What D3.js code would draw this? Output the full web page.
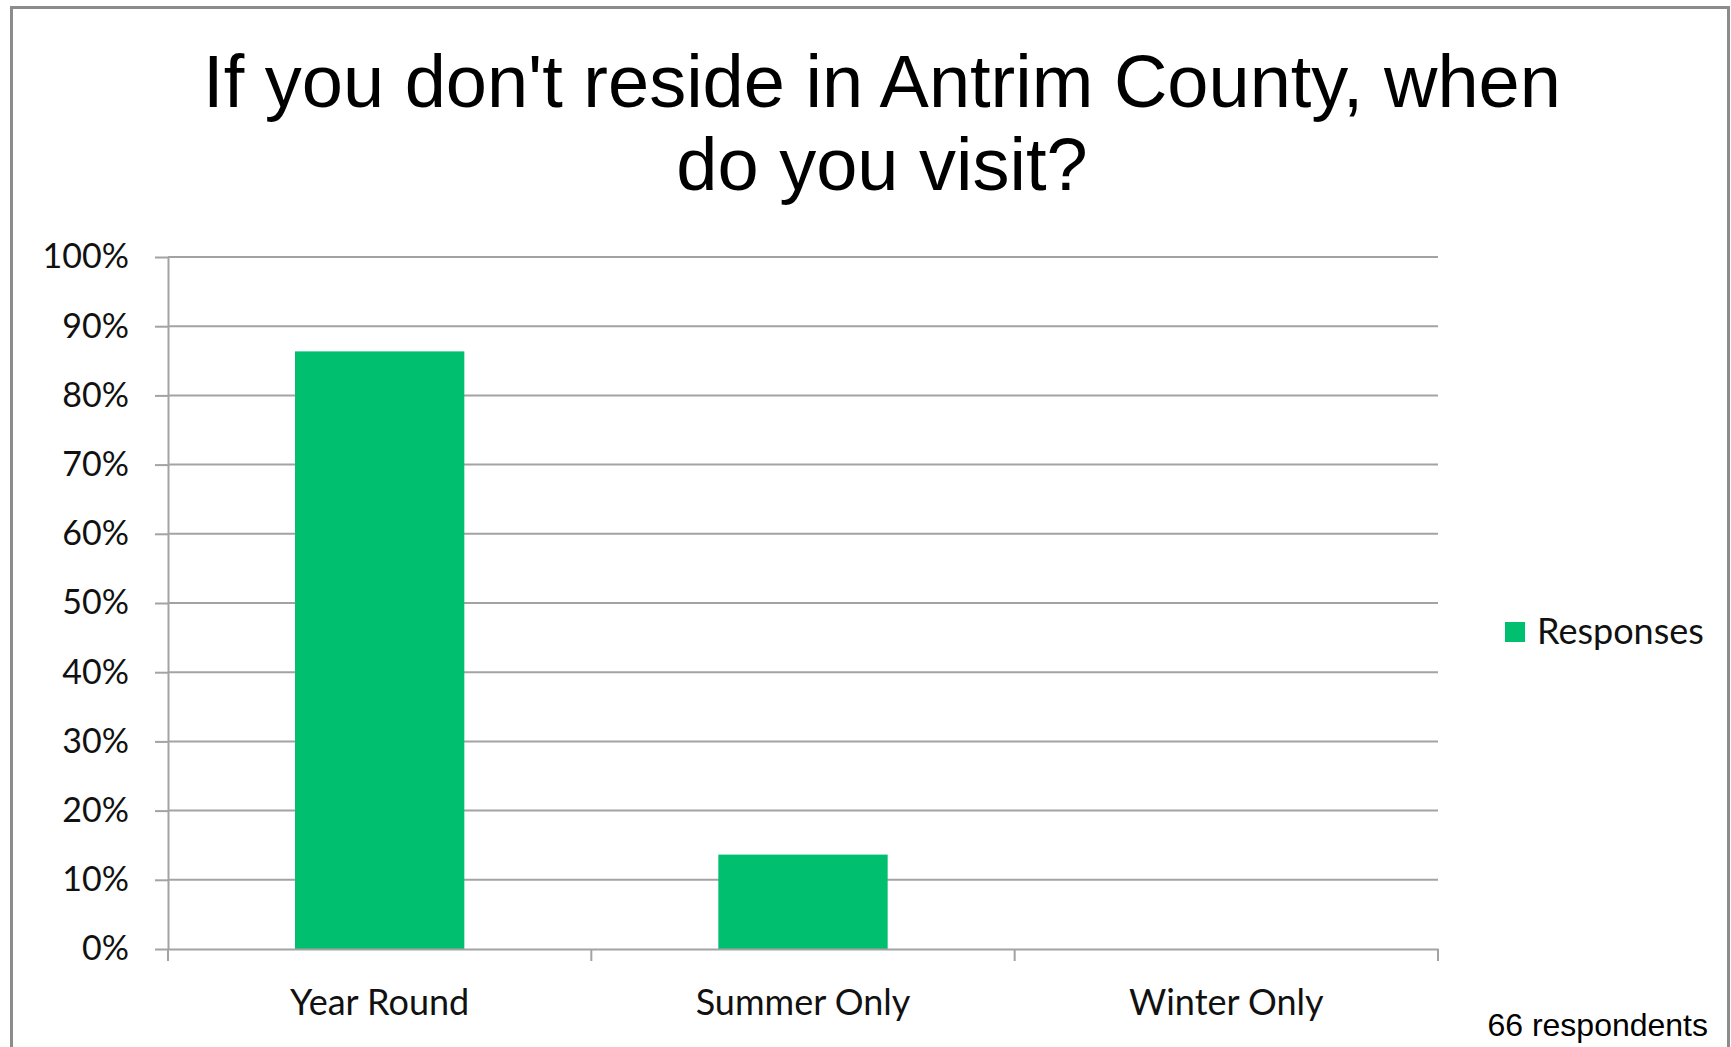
<!DOCTYPE html>
<html>
<head>
<meta charset="utf-8">
<script src="https://cdn.jsdelivr.net/npm/d3@7"></script>
<style>
  body { margin: 0; background: #fff; }
  svg { display: block; }
</style>
</head>
<body>
<div id="chart"></div>
<script>
const categories = ['Year Round', 'Summer Only', 'Winter Only'];
const responses = [0.8636, 0.1364, 0];
const yTicks = [0, 0.1, 0.2, 0.3, 0.4, 0.5, 0.6, 0.7, 0.8, 0.9, 1];
const titleLines = ["If you don't reside in Antrim County, when", "do you visit?"];
const seriesName = 'Responses';
const footnote = '66 respondents';

const width = 1731;
const height = 1047;
const barColor = '#00bf6f';
const gridColor = '#a3a3a3';
const labelFont = 'Lato, "Open Sans", sans-serif';

const svg = d3.select('#chart')
    .append('svg')
    .attr('width', width)
    .attr('height', height);

// outer frame
svg.append('rect')
    .attr('x', 11.5)
    .attr('y', 7.5)
    .attr('width', width - 14)
    .attr('height', height + 20)
    .attr('fill', '#fff')
    .attr('stroke', '#8c8c8c')
    .attr('stroke-width', 3);

// title
svg.append('g')
    .selectAll('text')
    .data(titleLines)
    .enter()
    .append('text')
    .attr('x', 882)
    .attr('y', (d, i) => 107 + i * 83)
    .attr('text-anchor', 'middle')
    .attr('font-family', '"Liberation Sans", Arial, sans-serif')
    .attr('font-size', 74)
    .attr('fill', '#000')
    .text(d => d);

const x = d3.scaleBand()
    .domain(categories)
    .range([168, 1438])
    .paddingInner(0.6)
    .paddingOuter(0.3);

const y = d3.scaleLinear()
    .domain([0, 1])
    .range([949, 257]);

// gridlines
svg.append('g')
    .selectAll('line')
    .data(yTicks.slice(1))
    .enter()
    .append('line')
    .attr('x1', 168)
    .attr('x2', 1438)
    .attr('y1', d => y(d))
    .attr('y2', d => y(d))
    .attr('stroke', gridColor)
    .attr('stroke-width', 2);

// bars
svg.append('g')
    .selectAll('rect')
    .data(categories)
    .enter()
    .append('rect')
    .attr('x', d => x(d))
    .attr('y', (d, i) => y(responses[i]))
    .attr('width', x.bandwidth())
    .attr('height', (d, i) => y(0) - y(responses[i]))
    .attr('fill', barColor);

// y axis
const yAxis = svg.append('g')
    .attr('transform', 'translate(168,0)')
    .call(d3.axisLeft(y)
        .tickValues(yTicks)
        .tickFormat(d3.format('.0%'))
        .tickSizeInner(13)
        .tickSizeOuter(0)
        .tickPadding(26));

yAxis.select('.domain').attr('stroke', gridColor).attr('stroke-width', 2);
yAxis.selectAll('.tick line').attr('stroke', gridColor).attr('stroke-width', 2);
yAxis.selectAll('.tick text')
    .attr('font-family', labelFont)
    .attr('font-size', 34)
    .attr('fill', '#111');

// x axis
const xAxis = svg.append('g')
    .attr('transform', 'translate(0,' + y(0) + ')')
    .call(d3.axisBottom(x)
        .tickSize(0)
        .tickPadding(40));

xAxis.select('.domain').attr('stroke', gridColor).attr('stroke-width', 2);
xAxis.selectAll('.tick text')
    .attr('font-family', labelFont)
    .attr('font-size', 36)
    .attr('fill', '#111');

// category boundary ticks
const step = x.step();
const x0 = x.range()[0];
xAxis.append('g')
    .selectAll('line')
    .data(d3.range(categories.length + 1))
    .enter()
    .append('line')
    .attr('x1', d => x0 + d * step)
    .attr('x2', d => x0 + d * step)
    .attr('y1', 0)
    .attr('y2', 12)
    .attr('stroke', gridColor)
    .attr('stroke-width', 2);

// legend
const legend = svg.append('g');
legend.append('rect')
    .attr('x', 1505)
    .attr('y', 622)
    .attr('width', 20)
    .attr('height', 20)
    .attr('fill', barColor);
legend.append('text')
    .attr('x', 1537)
    .attr('y', 644)
    .attr('font-family', labelFont)
    .attr('font-size', 36)
    .attr('fill', '#111')
    .text(seriesName);

// respondents note
svg.append('text')
    .attr('x', 1708)
    .attr('y', 1036)
    .attr('text-anchor', 'end')
    .attr('font-family', '"Liberation Sans", Arial, sans-serif')
    .attr('font-size', 32)
    .attr('fill', '#000')
    .text(footnote);
</script>
</body>
</html>
